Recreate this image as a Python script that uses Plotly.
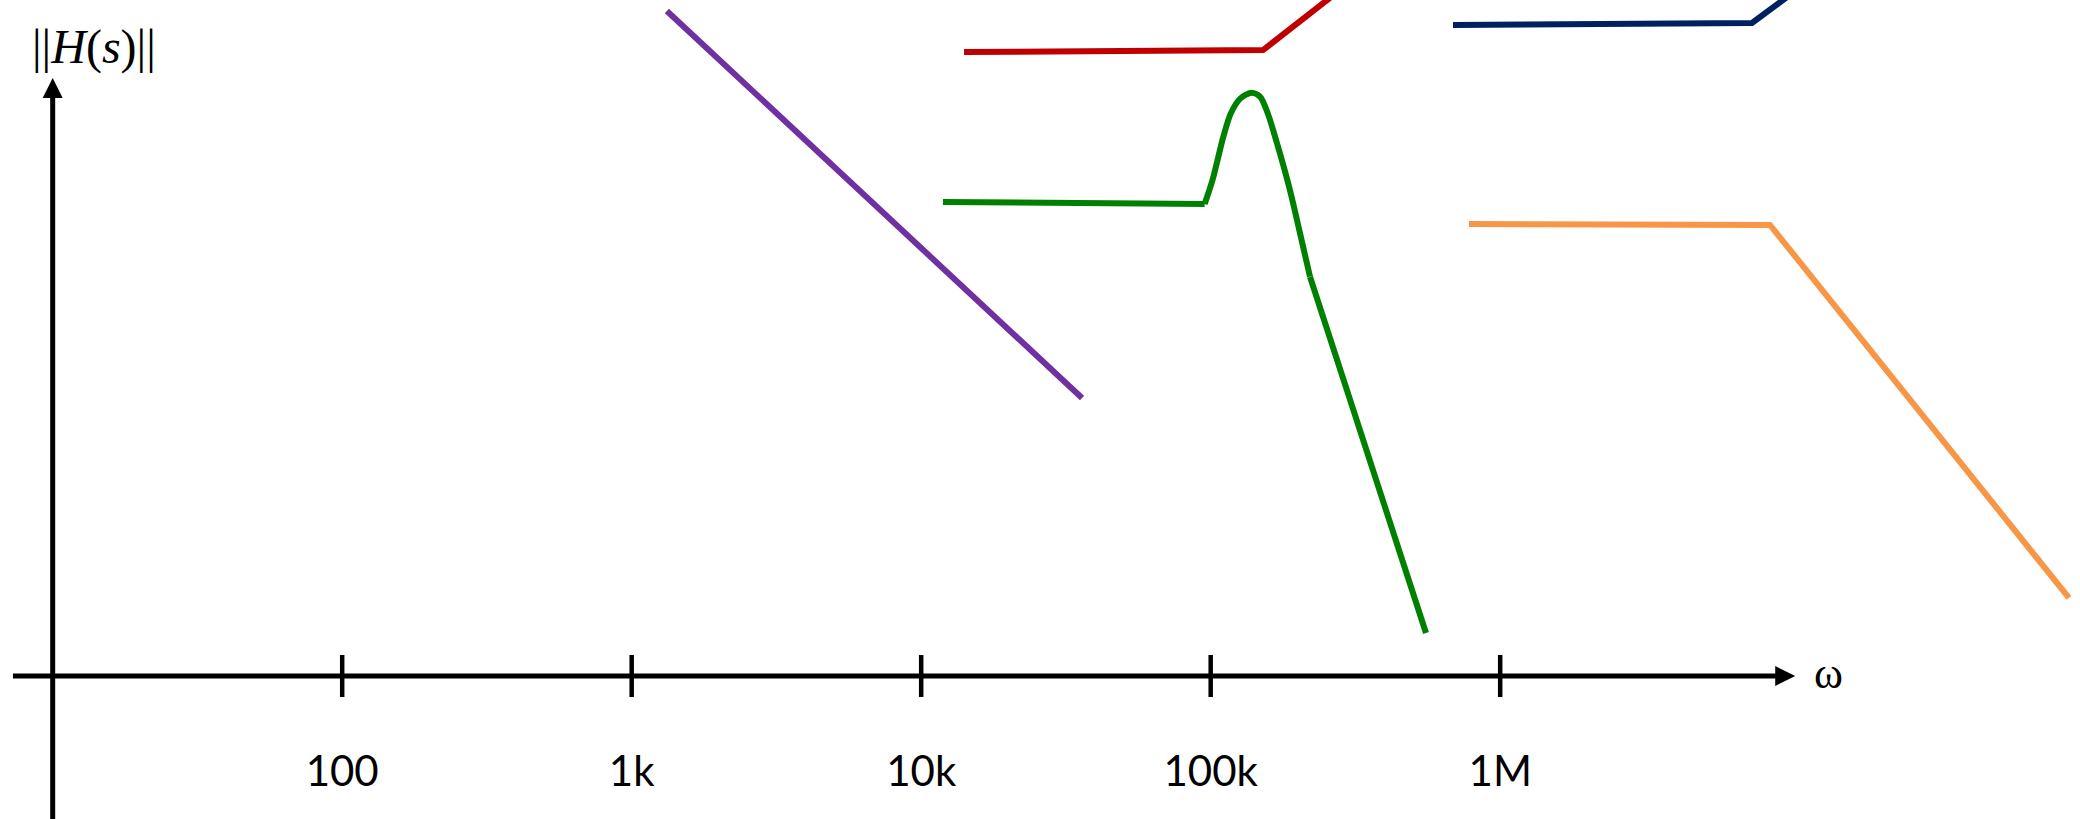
import numpy as np
import plotly.graph_objects as go

W, H = 2080, 819

# ---- frequency-axis ticks ----
tick_values = [1e2, 1e3, 1e4, 1e5, 1e6]
tick_labels = ["100", "1k", "10k", "100k", "1M"]

# ---- sketched magnitude curves (omega in rad/s, magnitude in dB-like units) ----
purple_w = [1323, 35940]
purple_db = [50.38, 21.06]

red_w = [14060, 151700, 279700]
red_db = [47.27, 47.42, 51.97]

navy_w = [687000, 7.41e6, 1.056e7]
navy_db = [49.32, 49.47, 51.97]

green_w = [11890, 95300, 101500, 110600, 117400, 126700, 138500,
           148300, 157400, 170800, 187800, 203400, 220300, 554300]
green_db = [35.91, 35.76, 37.58, 40.86, 42.63, 43.76, 44.19,
            43.88, 42.63, 40.10, 36.82, 33.56, 30.25, 3.26]
GREEN_PEAK_START, GREEN_PEAK_END = 1, 12   # indices bounding the resonant bump

orange_w = [780300, 8.55e6, 9.22e7]
orange_db = [34.24, 34.17, 5.91]

# axis extents
x_axis_w = [7.29, 9.5e6]
x_arrow_tip = 1.045e7
y_axis_w = 10
y_axis_db = [-15.0, 44.4]
y_arrow_tip = 45.3

# ---- layout geometry ----
X_RANGE = [0.818, 8.0028]          # log10 omega across the full width
Y0_PX = 676                          # pixel row of the omega axis
K = 13.2                             # px per dB
Y_RANGE = [(Y0_PX - H) / K, Y0_PX / K]

fig = go.Figure()

line_style = dict(width=6)
fig.add_trace(go.Scatter(x=purple_w, y=purple_db, mode="lines",
                         line=dict(color="#7030A0", **line_style), hoverinfo="skip"))
fig.add_trace(go.Scatter(x=red_w, y=red_db, mode="lines",
                         line=dict(color="#C00000", **line_style), hoverinfo="skip"))
fig.add_trace(go.Scatter(x=navy_w, y=navy_db, mode="lines",
                         line=dict(color="#002060", **line_style), hoverinfo="skip"))

# green: flat part, resonant bump (smoothed), steep tail
s, e = GREEN_PEAK_START, GREEN_PEAK_END
fig.add_trace(go.Scatter(x=green_w[:s + 1], y=green_db[:s + 1], mode="lines",
                         line=dict(color="#008000", **line_style), hoverinfo="skip"))
fig.add_trace(go.Scatter(x=green_w[s:e + 1], y=green_db[s:e + 1], mode="lines",
                         line=dict(color="#008000", shape="spline", smoothing=0.8,
                                   **line_style), hoverinfo="skip"))
fig.add_trace(go.Scatter(x=green_w[e:], y=green_db[e:], mode="lines",
                         line=dict(color="#008000", **line_style), hoverinfo="skip"))

fig.add_trace(go.Scatter(x=orange_w, y=orange_db, mode="lines",
                         line=dict(color="#F79646", **line_style), hoverinfo="skip"))

# axes drawn as lines
fig.add_trace(go.Scatter(x=x_axis_w, y=[0, 0], mode="lines",
                         line=dict(color="black", width=5), hoverinfo="skip"))
fig.add_trace(go.Scatter(x=[y_axis_w, y_axis_w], y=y_axis_db, mode="lines",
                         line=dict(color="black", width=5), hoverinfo="skip"))
# tick marks crossing the axis
fig.add_trace(go.Scatter(x=tick_values, y=[0] * len(tick_values), mode="markers",
                         marker=dict(symbol="line-ns", size=30,
                                     line=dict(color="black", width=4.5)),
                         hoverinfo="skip"))

# arrow heads
fig.add_annotation(x=np.log10(x_arrow_tip), y=0, xref="x", yref="y", ax=-24, ay=0,
                   text="", showarrow=True, arrowhead=2, arrowsize=1, arrowwidth=4,
                   arrowcolor="black", standoff=0)
fig.add_annotation(x=np.log10(y_axis_w), y=y_arrow_tip, xref="x", yref="y", ax=0, ay=24,
                   text="", showarrow=True, arrowhead=2, arrowsize=1, arrowwidth=4,
                   arrowcolor="black", standoff=0)

# axis titles
fig.add_annotation(x=94 / W, y=1 - 47 / H, xref="paper", yref="paper",
                   text="||<i>H</i>(<i>s</i>)||", showarrow=False,
                   font=dict(family="Liberation Serif", size=48, color="black"),
                   xanchor="center", yanchor="middle")
fig.add_annotation(x=1828 / W, y=1 - 673 / H, xref="paper", yref="paper",
                   text="ω", showarrow=False,
                   font=dict(family="Liberation Serif", size=44, color="black"),
                   xanchor="center", yanchor="middle")

fig.update_layout(
    width=W, height=H, autosize=False,
    margin=dict(l=0, r=0, t=0, b=0, pad=0),
    paper_bgcolor="white", plot_bgcolor="white",
    showlegend=False,
    xaxis=dict(type="log", range=X_RANGE, showgrid=False, zeroline=False,
               showline=False, ticks="", tickvals=tick_values, ticktext=tick_labels,
               tickfont=dict(family="Lato", size=42, color="black"),
               anchor="free", position=(H - Y0_PX) / H, ticklabelstandoff=67,
               fixedrange=True),
    yaxis=dict(range=Y_RANGE, visible=False, fixedrange=True),
)

fig.write_html("out.html", config={"displayModeBar": False},
               post_script="document.body.style.margin='0';")
